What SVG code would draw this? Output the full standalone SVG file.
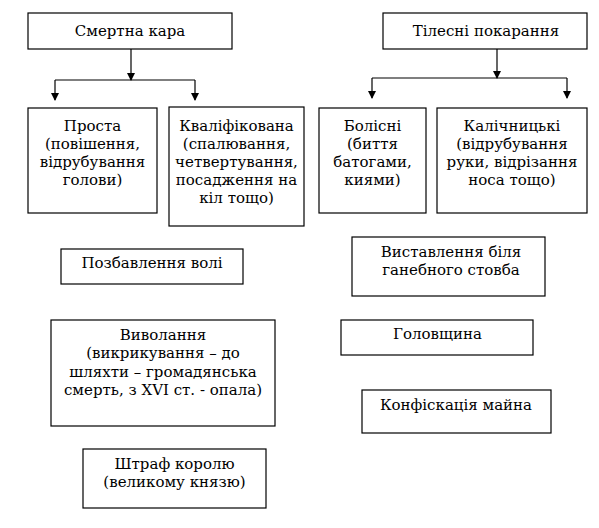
<svg xmlns="http://www.w3.org/2000/svg" width="599" height="528" viewBox="0 0 599 528">
<style>
.box{fill:#fff;stroke:#000;stroke-width:1.2}
.c{stroke:#000;stroke-width:1.2;fill:none}
</style>
<defs>
<marker id="ah" viewBox="0 0 8 8" refX="7" refY="4" markerWidth="8" markerHeight="8" markerUnits="userSpaceOnUse" orient="auto">
<path d="M0,0 L8,4 L0,8 Z" fill="#000"/>
</marker>
</defs>
<rect width="599" height="528" fill="#fff"/>
<g id="connectors">
<line class="c" x1="131" y1="49" x2="131" y2="80" marker-end="url(#ah)"/>
<line class="c" x1="55" y1="80" x2="195" y2="80"/>
<line class="c" x1="55" y1="80" x2="55" y2="100" marker-end="url(#ah)"/>
<line class="c" x1="195" y1="80" x2="195" y2="100" marker-end="url(#ah)"/>
<line class="c" x1="497" y1="49" x2="497" y2="78" marker-end="url(#ah)"/>
<line class="c" x1="372" y1="78" x2="567" y2="78"/>
<line class="c" x1="372" y1="78" x2="372" y2="98" marker-end="url(#ah)"/>
<line class="c" x1="567" y1="78" x2="567" y2="98" marker-end="url(#ah)"/>
</g>
<g font-family="'DejaVu Serif', 'Liberation Serif', serif" font-size="15" fill="#000" text-anchor="middle">
<g id="n-smertna">
<rect class="box" x="28" y="13" width="204" height="36"/>
<text x="130" y="36">Смертна  кара</text>
</g>
<g id="n-tilesni">
<rect class="box" x="383" y="13" width="204" height="36"/>
<text x="486" y="36">Тілесні покарання</text>
</g>
<g id="n-prosta">
<rect class="box" x="28" y="108" width="129" height="105"/>
<text x="92.5" y="131">Проста</text>
<text x="92.5" y="149">(повішення,</text>
<text x="92.5" y="167">відрубування</text>
<text x="92.5" y="185">голови)</text>
</g>
<g id="n-kvalif">
<rect class="box" x="169" y="107" width="135" height="119"/>
<text x="236.5" y="131">Кваліфікована</text>
<text x="236.5" y="149">(спалювання,</text>
<text x="236.5" y="167">четвертування,</text>
<text x="236.5" y="185">посадження на</text>
<text x="236.5" y="203">кіл тощо)</text>
</g>
<g id="n-bolisni">
<rect class="box" x="319" y="108" width="107" height="105"/>
<text x="372.5" y="131">Болісні</text>
<text x="372.5" y="149">(биття</text>
<text x="372.5" y="167">батогами,</text>
<text x="372.5" y="185">киями)</text>
</g>
<g id="n-kalich">
<rect class="box" x="437" y="108" width="150" height="105"/>
<text x="512" y="131">Калічницькі</text>
<text x="512" y="149">(відрубування</text>
<text x="512" y="167">руки, відрізання</text>
<text x="512" y="185">носа тощо)</text>
</g>
<g id="n-pozbavlennia">
<rect class="box" x="61" y="249" width="182" height="35"/>
<text x="152" y="268">Позбавлення волі</text>
</g>
<g id="n-vyvolannia">
<rect class="box" x="51" y="320" width="224" height="106"/>
<text x="163" y="340">Виволання</text>
<text x="163" y="358">(викрикування – до</text>
<text x="163" y="377">шляхти – громадянська</text>
<text x="163" y="395">смерть, з XVI ст. - опала)</text>
</g>
<g id="n-shtraf">
<rect class="box" x="83" y="449" width="183" height="59"/>
<text x="174.5" y="469">Штраф королю</text>
<text x="174.5" y="487">(великому князю)</text>
</g>
<g id="n-vystavlennia">
<rect class="box" x="352" y="237" width="193" height="59"/>
<text x="451" y="257">Виставлення біля</text>
<text x="451" y="275">ганебного стовба</text>
</g>
<g id="n-holovshchyna">
<rect class="box" x="341" y="320" width="192" height="35"/>
<text x="437.5" y="339">Головщина</text>
</g>
<g id="n-konfiskatsia">
<rect class="box" x="362" y="390" width="189" height="43"/>
<text x="456" y="410">Конфіскація майна</text>
</g>
</g>
</svg>
